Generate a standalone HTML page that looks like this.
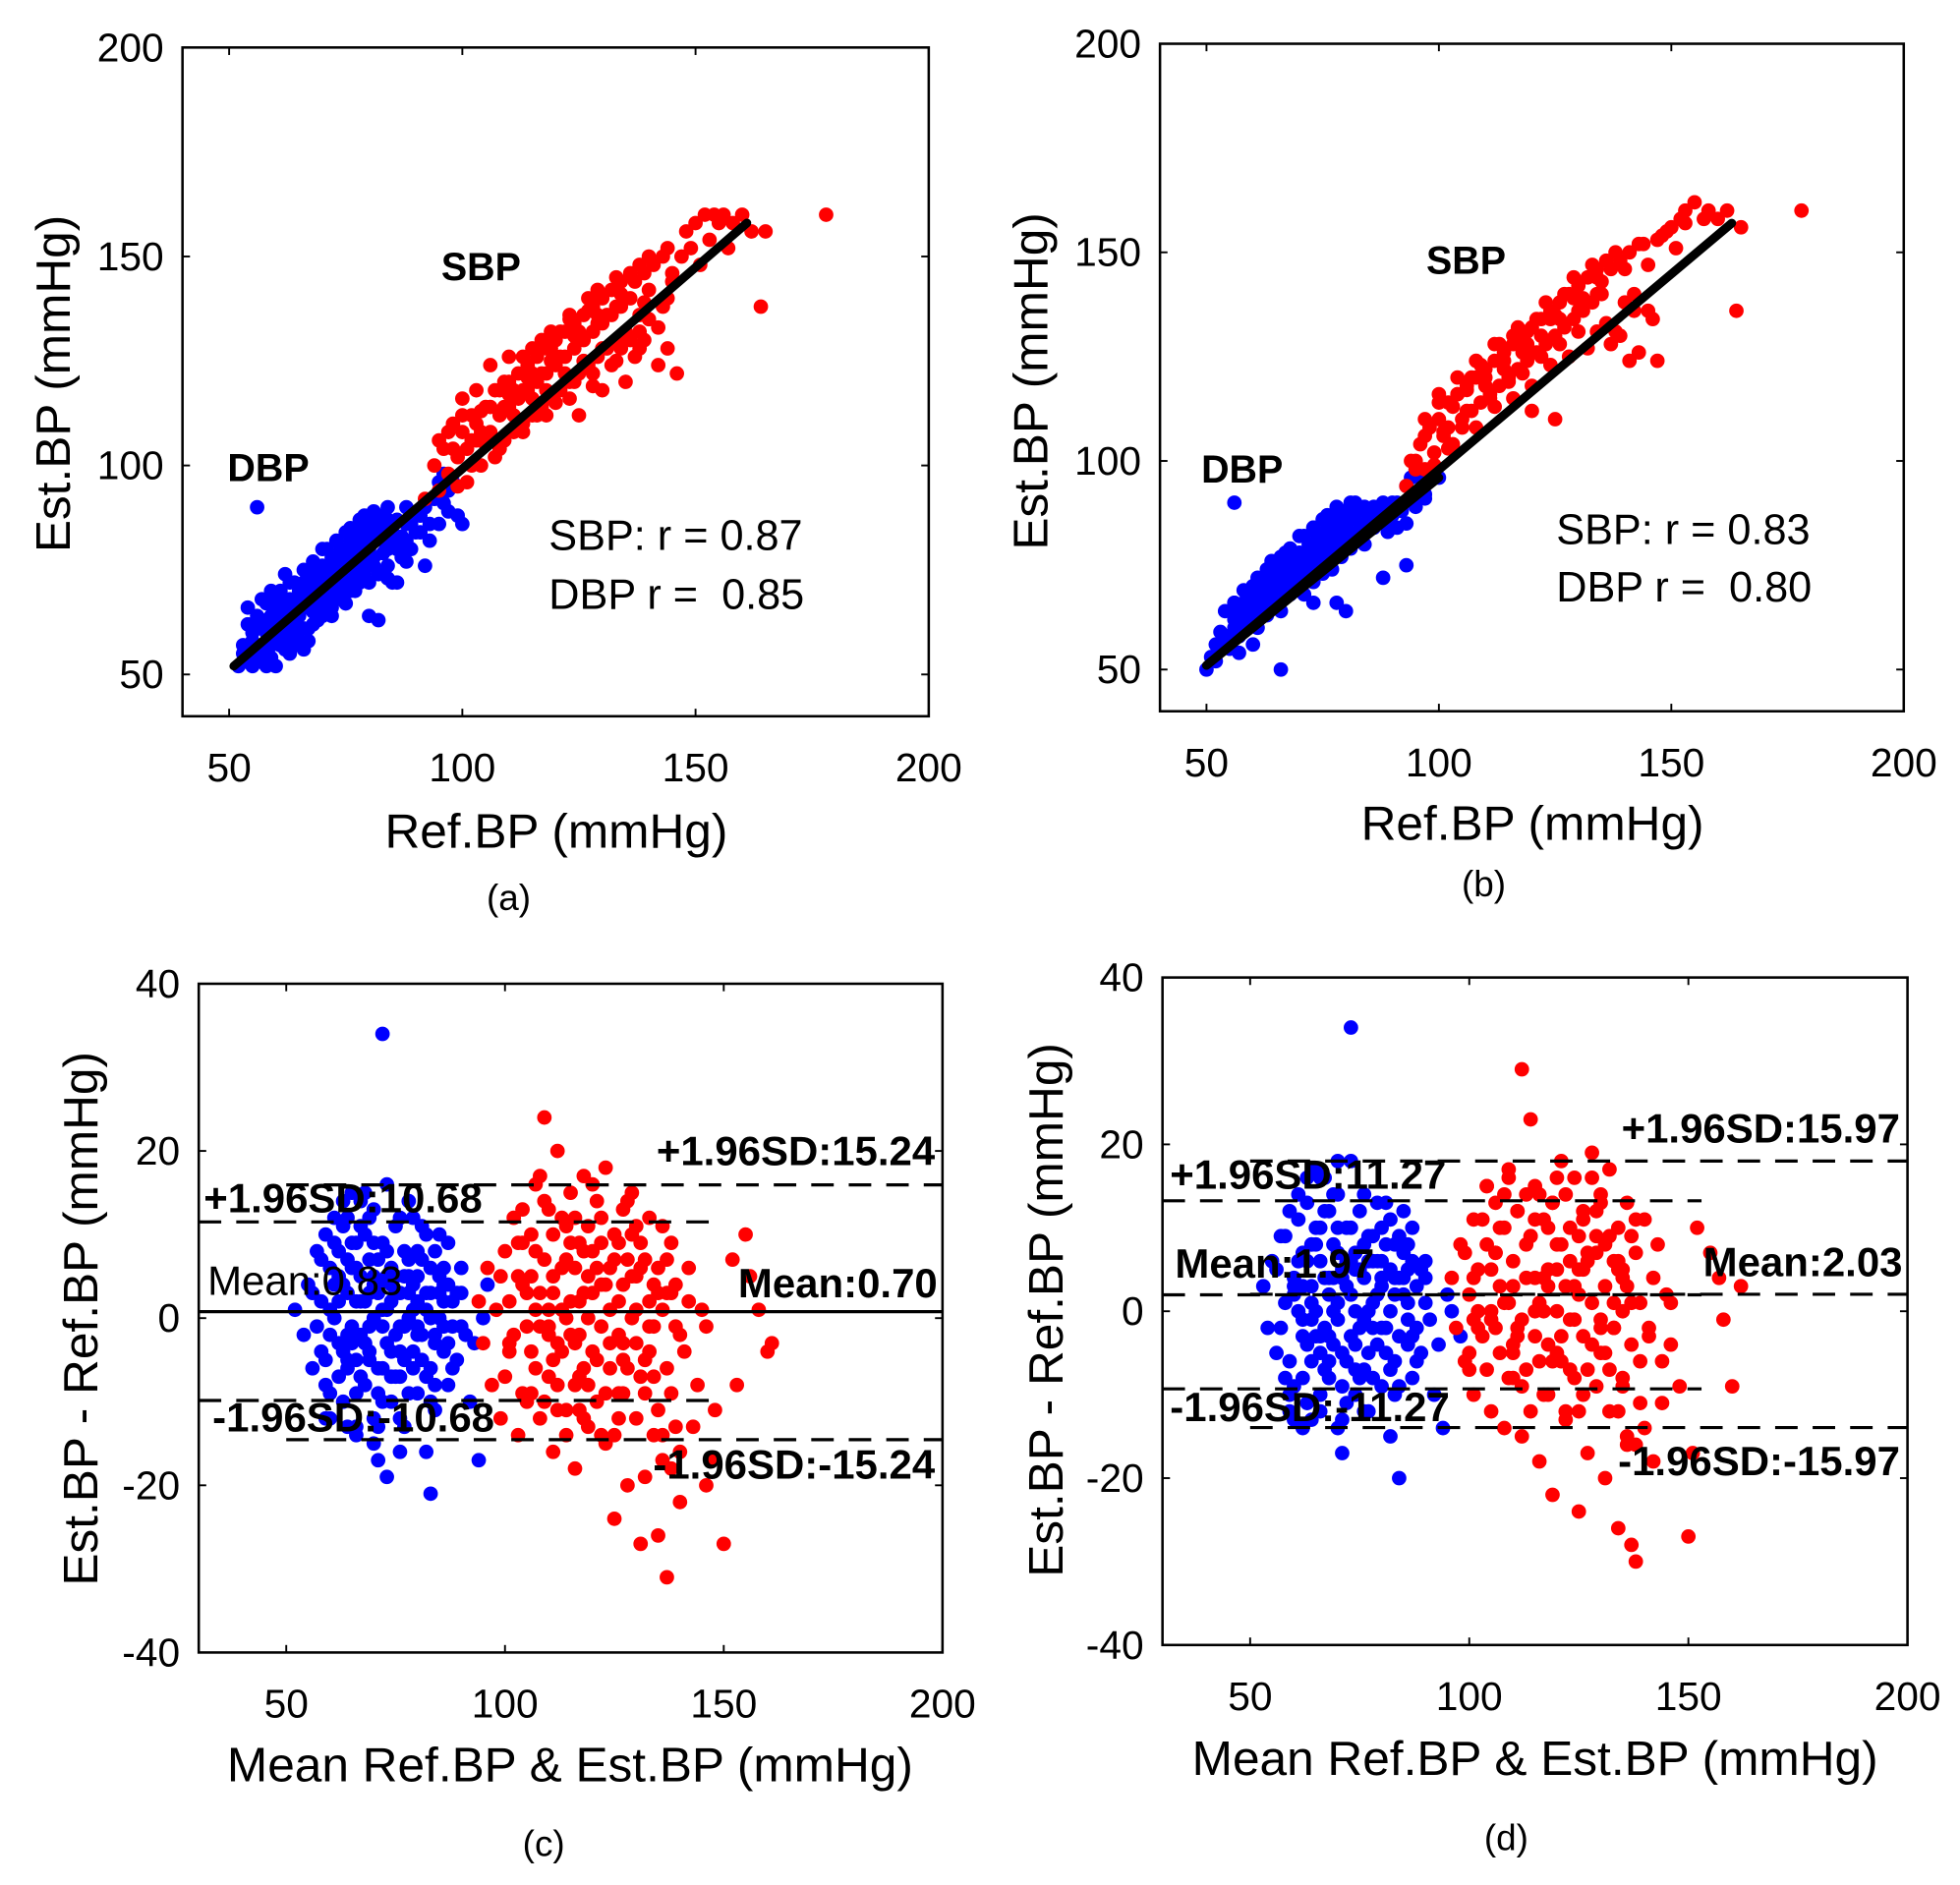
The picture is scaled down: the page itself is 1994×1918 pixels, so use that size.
<!DOCTYPE html>
<html><head><meta charset="utf-8"><style>
html,body{margin:0;padding:0;background:#fff}
svg{display:block}
text{font-family:"Liberation Sans",Arial,sans-serif;fill:#000;white-space:pre}
</style></head><body>
<svg id="fig" width="1994" height="1918" viewBox="0 0 1568 1508" preserveAspectRatio="none" xmlns="http://www.w3.org/2000/svg"></svg>
<script>
// ---- data ----
const aDbp=[52,52,53,55,54,53,55,58,55,60,56,54,57,57,57,62,58,60,58,55,59,64,60,58,60,62,61,66,61,60,62,64,62,58,63,68,63,62,64,66,64,60,65,70,65,64,66,68,66,72,67,66,67,70,68,74,68,68,69,72,69,66,70,76,70,70,71,74,71,68,72,78,72,72,73,76,73,70,74,80,74,74,75,78,75,72,76,82,76,76,77,80,77,74,78,84,78,78,79,82,79,76,80,86,80,80,81,84,81,78,82,88,82,74,83,82,83,86,84,80,84,76,85,84,85,72,86,80,87,78,88,82,89,86,90,88,91,84,92,90,93,86,94,92,95,96,96,98,97,94,98,96,99,88,100,86,56,90,60,52,58,52,63,55,66,56,67,58,80,64,82,63,86,72,92,76,54,66,57,68,59,70,62,74,65,58,68,62,70,64,72,66,74,68,76,70,78,72,60,68,64,72,70,80,75,84,79,88,84,90,88,90];
const aDbpX=[53,57,55,52,56,61,57,55,58,63,59,57,60,65,61,57,62,67,63,60,64,63,65,67,66,61,67,73,68,65,69,69,70,73,71,65,72,75,73,68,74,77,75,70,76,79,77,71,78,81,79,74,80,83,81,76,82,85,83,79,84,87,85,81,86,87,87,83,88,86,89,80,90,84,91,88,93,82,95,86,96,91,97,89,54,62,56,64,58,67,61,70,63,72,66,75,68,77,71,80,73,82,76,85,78,87,81,89,57,53,59,54,62,56,64,57,67,61,69,63,72,64,75,67,77,70,80,72,84,73,88,77];
const aSbp=[92,92,94,100,95,106,96,104,97,98,98,110,99,102,100,108,101,96,102,112,103,106,104,100,105,114,106,108,107,102,108,118,108,112,109,106,110,120,110,114,111,108,112,122,112,116,113,110,114,124,114,118,115,112,116,126,116,120,117,114,118,128,118,122,119,116,120,130,120,124,121,118,122,132,122,126,123,120,124,134,124,128,125,122,126,136,126,130,127,124,128,138,128,132,129,126,130,140,130,134,131,128,132,142,132,136,133,130,134,144,134,138,135,132,136,146,136,140,137,126,138,148,138,136,139,130,140,150,140,142,142,124,143,138,144,152,145,146,146,122,148,156,150,158,152,160,154,160,156,160,158,158,160,160,162,156,164,138,165,156,178,160,106,124,110,126,115,128,100,116,103,118,125,112,130,118,135,120,98,104,104,108,109,114,113,118,117,122,121,126,125,130,129,134,133,138,119,132,123,136,127,140,111,118,115,122,102,106];
const aSbpX=[95,94,97,108,99,95,100,112,102,100,104,113,105,105,107,118,108,104,110,117,111,112,112,110,113,126,115,116,116,112,117,130,118,118,119,128,120,115,121,132,122,122,123,135,124,120,125,132,126,125,127,137,128,122,129,142,130,128,131,136,132,124,133,145,134,128,135,140,136,130,137,144,138,128,139,146,140,135,141,148,142,133,143,150,144,128,145,144,147,150,149,152,151,148,153,154,155,158,157,152,101,104,103,110,106,114,109,120,114,121,119,125,124,131,129,136,134,141,139,139,144,140,113,108,118,112,123,116,128,119,133,125,138,132];
const bDbp=[50,50,51,53,52,52,53,56,54,58,55,55,56,60,56,62,57,58,58,62,58,66,59,60,60,64,60,68,61,62,62,66,62,70,63,64,64,68,64,72,65,66,66,70,66,74,67,68,68,72,68,76,69,70,70,74,70,78,71,72,72,76,72,80,73,74,74,78,74,82,75,76,76,80,76,84,77,78,78,82,78,86,79,80,80,84,80,88,81,82,82,86,82,90,83,84,84,88,84,80,85,86,86,84,87,88,88,90,89,86,90,90,91,84,92,88,93,94,94,96,95,98,96,96,97,92,98,98,100,96,56,90,52,56,54,58,57,54,60,56,66,50,70,70,73,66,78,66,80,64,88,72,93,75,60,70,62,72,64,76,67,78,70,82,73,84,75,86,58,64,61,66,63,70,65,72,68,74,71,76,74,80,77,82,56,66,59,68];
const bDbpX=[53,59,55,55,56,63,57,58,58,65,59,60,60,67,61,60,62,69,63,63,64,66,65,70,66,64,67,75,68,68,69,72,70,76,71,68,72,78,73,71,74,80,75,73,76,82,77,74,78,84,79,77,80,86,81,79,82,87,83,82,84,89,85,84,86,89,87,86,88,88,89,83,90,87,91,90,93,85,95,89,96,93,97,91,54,64,56,66,58,69,61,72,63,74,66,77,68,79,71,82,73,84,76,87,78,89,81,90];
const bSbp=[93,94,94,100,96,104,97,98,98,108,99,102,100,110,101,106,102,114,103,104,104,116,105,110,106,118,107,112,108,120,109,114,110,122,111,116,112,124,113,118,114,126,115,120,116,128,117,122,118,130,119,124,120,132,121,126,122,134,123,128,124,136,125,130,126,138,127,132,128,140,129,134,130,142,131,136,132,144,133,138,134,146,135,140,136,148,137,128,138,150,139,130,140,146,141,124,142,140,143,126,144,152,145,136,146,134,147,124,148,154,150,156,152,158,153,160,155,162,157,158,158,160,160,158,162,160,164,136,165,156,178,160,100,116,104,120,108,124,112,128,116,130,102,108,106,112,110,118,114,122,118,126,122,130,126,134,130,136,134,140,120,112,125,110,97,106,95,100];
const bSbpX=[95,98,97,110,99,99,100,114,102,103,104,116,105,108,107,120,108,108,110,120,111,115,112,113,113,128,115,119,116,115,117,132,118,121,119,131,120,118,121,134,122,125,123,138,124,123,125,135,126,128,127,140,128,125,129,144,130,131,131,139,132,127,133,147,134,131,135,143,136,133,137,146,138,131,139,148,140,138,141,150,142,136,143,152,145,147,147,153,149,155,151,151,153,157,101,107,103,113,106,117,109,123,114,124,119,128,124,134,129,139,134,144];
const cDbp=[52,1,54,-2,55,4,56,-6,57,8,58,-4,58,2,59,10,59,-8,60,6,60,-12,61,0,61,12,62,-3,62,5,63,14,63,-10,64,3,64,-6,65,9,65,-1,65,15,66,6,66,-14,67,-2,67,11,68,2,68,-8,69,7,69,-4,70,13,70,0,70,-12,71,4,71,-17,72,-6,72,9,73,1,73,-3,73,16,74,6,74,-10,75,-2,75,11,76,3,76,-7,77,8,77,-13,78,0,78,5,79,-4,79,12,80,2,80,-9,81,7,81,-2,82,10,82,-16,83,3,83,-6,84,8,84,-11,85,0,85,5,86,-4,87,9,87,-8,88,2,89,-5,90,6,91,-2,92,-10,93,-3,94,-17,95,0,96,4,72,34,73,-19,83,-21,76,-16,64,12,68,15,78,14,66,-13,70,-15,60,-2,62,8,64,-5,66,2,68,-3,70,4,72,-1,74,2,76,-4,78,3,80,-1,82,1,84,-2,86,2,88,-1,67,5,69,-5,71,7,75,5,79,-6];
const cDbpX=[56,3,57,-1,58,7,59,-5,60,1,61,9,62,-7,63,4,64,-2,65,6,66,-9,67,2,68,10,69,-1,70,5,71,-6,72,1,73,8,74,-4,75,3,76,12,77,-1,78,-9,79,4,80,8,81,-5,82,3,83,0,84,-3,85,10,86,6,88,-6,89,3,90,-1,60,-9,63,11,66,-5,69,12,72,-10,75,-7,78,7,81,11,84,-8,87,4,62,2,65,-3,68,-3,71,3,74,4,77,5,80,-2,83,6,86,-1,59,-12,64,-13,67,14,71,-13,76,-12,61,4,63,-4,66,9,69,3,71,-9,73,5,76,-1,79,1,82,-7,85,3,87,-3,64,7,67,-7,70,9,74,-7,77,-5,80,5,83,-10,86,4,90,3];
const cSbp=[94,2,95,-3,96,6,97,-8,98,1,99,-12,100,8,101,-4,102,12,103,-14,104,4,105,-1,106,10,106,-9,107,16,107,-6,108,3,108,-12,109,24,109,7,110,-2,110,13,111,-16,111,5,112,-8,112,20,113,1,113,-4,114,11,114,-11,115,15,115,-2,116,6,116,-18,117,9,117,-7,118,3,118,17,119,-13,119,0,120,8,120,-4,121,14,121,-10,122,4,122,-1,123,18,123,-15,124,6,124,-6,125,10,125,-24,126,2,126,-9,127,13,127,-3,128,7,128,-20,129,0,129,15,130,-12,130,5,131,-27,131,9,132,-5,132,-19,133,12,133,2,134,-7,135,6,135,-26,136,-14,136,11,137,-31,137,3,138,-9,139,4,140,-2,140,-22,142,6,143,-13,145,1,146,-20,147,-17,150,-27,152,7,153,-8,155,10,156,5,158,1,160,-4,161,-3,105,-10,110,-1,114,0,118,-6,122,9,126,-2,130,1,134,-1,138,3,111,3,119,5,127,-5,104,9,116,-3,103,5];
const cSbpX=[99,5,100,-7,101,2,102,-2,103,9,104,-9,105,3,106,-4,107,8,108,-1,109,14,110,-7,111,10,112,-3,113,6,114,-14,115,2,116,12,117,-2,118,8,119,-8,120,3,121,-5,122,12,123,-9,124,1,125,7,126,-12,127,4,128,-6,129,10,130,-3,131,6,132,-9,133,-1,134,4,135,-11,136,1,137,-6,138,9,139,-13,141,-4,142,2,144,-8,146,-1,148,-11,104,13,108,17,112,-11,116,-8,120,16,124,-3,128,14,132,7,136,-17,140,-16,110,1,114,7,118,-12,122,-14,126,9,130,11,134,-14,138,-18,101,-3,106,5,111,-5,115,9,119,11,123,4,127,-9,131,-7,135,3,139,-1,109,-10,113,12,117,2,121,6,125,-14,129,5,133,-4,137,7,107,1,117,-11];
const dDbp=[53,3,54,-2,55,6,56,-5,57,9,58,-8,58,1,59,12,59,-10,60,4,60,-13,61,0,61,14,62,-3,62,7,63,16,63,-11,64,3,64,-6,65,10,65,0,65,17,66,6,66,-12,67,-2,67,12,68,2,68,-8,69,8,69,-4,70,14,70,1,70,-14,71,5,71,-17,72,-6,72,10,73,2,73,-3,73,18,74,7,74,-10,75,-2,75,12,76,4,76,-7,77,9,77,-12,78,1,78,6,79,-4,79,13,80,3,80,-9,81,8,81,-2,82,11,82,-15,83,4,83,-6,84,9,84,-20,85,2,85,7,86,-4,87,10,87,-8,88,3,89,-5,90,6,91,-1,92,-10,93,-4,94,-14,95,2,96,0,98,-3,73,34,66,16,70,18,62,-14,68,-6,72,6,74,0,76,8,78,-2,80,4,82,0,64,8,66,-3,68,4,70,-1,84,4,86,1,88,-2,60,2,62,-1,64,1];
const dDbpX=[56,5,57,-2,58,9,59,-6,60,3,61,11,62,-8,63,6,64,-1,65,8,66,-10,67,4,68,12,69,0,70,7,71,-5,72,3,73,10,74,-4,75,5,76,14,77,0,78,-8,79,6,80,10,81,-5,82,5,83,2,84,-3,85,12,86,8,88,-6,89,5,90,1,60,-9,63,13,66,-5,69,14,72,-11,75,-8,78,9,81,13,84,-9,87,6,62,3,65,-3,68,-3,71,4,74,5,77,6,80,-2,83,8,86,-1,59,-12,64,-13,67,16,71,-13,76,-12,61,6,63,-4,66,10,69,4,71,-9,73,6,76,-1,79,2,82,-7,85,4,87,-3,64,8,67,-7,70,10,74,-7,77,-5,80,6,83,-10,86,5,90,4];
const dSbp=[96,4,97,-2,98,8,99,-6,100,2,101,11,101,-10,102,5,103,-3,104,15,105,0,105,-12,106,7,106,13,107,-5,107,3,108,10,108,-14,109,1,109,17,110,-8,110,6,111,-2,111,12,112,29,112,-15,113,4,113,-7,114,23,114,9,115,-3,115,15,116,1,116,-18,117,11,117,-10,118,5,118,-4,119,13,119,-22,120,0,120,8,121,-6,121,18,122,3,122,-13,123,10,123,-1,124,16,124,-8,125,5,125,-24,126,12,126,-3,127,7,127,-17,128,1,128,19,129,-9,129,9,130,-5,130,14,131,-20,131,3,132,-12,132,17,133,6,133,-2,134,-26,134,10,135,-8,135,4,136,-16,136,13,137,-28,137,1,138,-30,138,7,139,-6,140,11,141,-3,142,-18,143,8,144,-11,145,2,146,-4,150,-27,151,-17,152,10,155,7,157,4,158,-1,160,-9,162,3,100,-7,105,-1,110,-4,115,0,120,-5,125,2,130,-2,135,0,104,8,118,3,126,5,134,5,102,-2];
const dSbpX=[99,7,100,-5,101,4,102,0,103,11,104,-7,105,5,106,-2,107,10,108,1,109,16,110,-5,111,12,112,-1,113,8,114,-12,115,4,116,14,117,0,118,10,119,-6,120,5,121,-3,122,14,123,-7,124,3,125,9,126,-10,127,6,128,-4,129,12,130,-1,131,8,132,-7,133,1,134,6,135,-9,136,3,137,-4,138,11,139,-11,141,-2,142,4,144,-6,146,1,148,-9,104,15,108,14,112,-9,116,-6,120,16,124,-1,128,16,132,9,136,-15,140,-14,110,3,114,9,118,-10,122,-12,126,11,130,13,134,-12,138,-16,101,-1,106,7,111,-3,115,11,119,13,123,6,127,-7,131,-5,135,5,139,1,109,-8,113,14,117,4,121,8,125,-12,129,7,133,-2,137,9];
// ---- helpers ----
const NS='http://www.w3.org/2000/svg';
const fig=document.getElementById('fig');
function mk(tag,attrs,parent,txt){const e=document.createElementNS(NS,tag);for(const k in attrs)e.setAttribute(k,attrs[k]);if(txt!==undefined)e.textContent=txt;(parent||fig).appendChild(e);return e;}
function panel(P){
  const g=mk('g',{});
  
  
  const sx=v=>P.L+(v-P.x0)/(P.x1-P.x0)*(P.R-P.L);
  const sy=v=>P.B-(v-P.y0)/(P.y1-P.y0)*(P.B-P.T);
  const clip='clip-'+P.name;
  const cp=mk('clipPath',{id:clip},g);mk('rect',{x:P.L,y:P.T,width:P.R-P.L,height:P.B-P.T},cp);
  const pts=mk('g',{'clip-path':'url(#'+clip+')'},g);
  P.series.forEach(s=>{
    for(let i=0;i<s.d.length;i+=2){
      const c=mk('circle',{cx:sx(s.d[i]),cy:sy(s.d[i+1]),r:5.8,fill:s.c},pts);
      
      
    }
  });
  (P.lines||[]).forEach(l=>{
    const e=mk('line',{x1:sx(l[0]),y1:sy(l[1]),x2:sx(l[2]),y2:sy(l[3]),stroke:'#000','stroke-width':l[4],'stroke-dasharray':l[5]||'none','stroke-linecap':l[5]?'butt':'round'},pts);
    
    
  });
  const fr=mk('rect',{x:P.L,y:P.T,width:P.R-P.L,height:P.B-P.T,fill:'none',stroke:'#000','stroke-width':2},g);
  
  
  P.xt.forEach(v=>{const x=sx(v);
    mk('line',{x1:x,y1:P.B,x2:x,y2:P.B-6,stroke:'#000','stroke-width':1.5},g);
    mk('line',{x1:x,y1:P.T,x2:x,y2:P.T+6,stroke:'#000','stroke-width':1.5},g);
    const t=mk('text',{x:x,y:P.B+52,'font-size':32,'text-anchor':'middle'},g,String(v));
    
    
  });
  P.yt.forEach(v=>{const y=sy(v);
    mk('line',{x1:P.L,y1:y,x2:P.L+6,y2:y,stroke:'#000','stroke-width':1.5},g);
    mk('line',{x1:P.R,y1:y,x2:P.R-6,y2:y,stroke:'#000','stroke-width':1.5},g);
    const t=mk('text',{x:P.L-15,y:y+11,'font-size':32,'text-anchor':'end'},g,String(v));
    
    
  });
  const xt=mk('text',{x:P.xtx,y:P.xty,'font-size':39,'text-anchor':'middle'},g,P.xtitle);
  
  
  const yt=mk('text',{x:0,y:0,'font-size':39,'text-anchor':'middle',transform:'translate('+P.ytx+','+P.yty+') rotate(-90)'},g,P.ytitle);
  
  
  const cap=mk('text',{x:P.capx,y:P.capy,'font-size':29,'text-anchor':'middle'},g,P.cap);
  
  
  P.notes.forEach(n=>{
    const t=mk('text',{x:n[0],y:n[1],'font-size':n[4]||33,'font-weight':n[3]?'bold':'normal','text-anchor':n[5]||'start'},g,n[2]);
    
    
  });
}
panel({name:'panel-a',L:146,R:743,T:38,B:573,x0:40,x1:200,y0:40,y1:200,xt:[50,100,150,200],yt:[50,100,150,200],
  series:[{d:aDbp,c:'#0000ff',n:'dbp'},{d:aDbpX,c:'#0000ff',n:'dbp'},{d:aSbp,c:'#ff0000',n:'sbp'},{d:aSbpX,c:'#ff0000',n:'sbp'}],
  lines:[[51,52,161,158,7,null,'regression-line']],
  xtitle:'Ref.BP (mmHg)',xtx:445,xty:678,ytitle:'Est.BP (mmHg)',ytx:56,yty:307,cap:'(a)',capx:407,capy:728,
  notes:[[353,224,'SBP',1,31],[182,385,'DBP',1,31],[439,440,'SBP: r = 0.87',0,34],[439,487,'DBP r =  0.85',0,34]]});
panel({name:'panel-b',L:928,R:1523,T:35,B:569,x0:40,x1:200,y0:40,y1:200,xt:[50,100,150,200],yt:[50,100,150,200],
  series:[{d:bDbp,c:'#0000ff',n:'dbp'},{d:bDbpX,c:'#0000ff',n:'dbp'},{d:bSbp,c:'#ff0000',n:'sbp'},{d:bSbpX,c:'#ff0000',n:'sbp'}],
  lines:[[50,51,163,157,7,null,'sbp-regression-line'],[50,51,100,96,7,null,'dbp-regression-line']],
  xtitle:'Ref.BP (mmHg)',xtx:1226,xty:672,ytitle:'Est.BP (mmHg)',ytx:838,yty:305,cap:'(b)',capx:1187,capy:717,
  notes:[[1141,219,'SBP',1,31],[961,386,'DBP',1,31],[1245,435,'SBP: r = 0.83',0,34],[1245,481,'DBP r =  0.80',0,34]]});
panel({name:'panel-c',L:159,R:754,T:787,B:1322,x0:30,x1:200,y0:-40,y1:40,xt:[50,100,150,200],yt:[-40,-20,0,20,40],
  series:[{d:cDbp,c:'#0000ff',n:'dbp'},{d:cDbpX,c:'#0000ff',n:'dbp'},{d:cSbp,c:'#ff0000',n:'sbp'},{d:cSbpX,c:'#ff0000',n:'sbp'}],
  lines:[[30,0.77,200,0.77,2.5,null,'mean-line'],
    [30,11.51,150,11.51,2.5,'18,12','dbp-upper-loa'],[30,-9.85,150,-9.85,2.5,'18,12','dbp-lower-loa'],
    [50,15.94,200,15.94,2.5,'18,12','sbp-upper-loa'],[50,-14.54,200,-14.54,2.5,'18,12','sbp-lower-loa']],
  xtitle:'Mean Ref.BP & Est.BP (mmHg)',xtx:456,xty:1425,ytitle:'Est.BP - Ref.BP (mmHg)',ytx:78,yty:1055,cap:'(c)',capx:435,capy:1485,
  notes:[[748,932,'+1.96SD:15.24',1,33,'end'],[163,970,'+1.96SD:10.68',1,33],[166,1036,'Mean:0.83',0,33],[750,1038,'Mean:0.70',1,33,'end'],
    [170,1145,'-1.96SD:-10.68',1,33],[748,1183,'-1.96SD:-15.24',1,33,'end']]});
panel({name:'panel-d',L:930,R:1526,T:782,B:1316,x0:30,x1:200,y0:-40,y1:40,xt:[50,100,150,200],yt:[-40,-20,0,20,40],
  series:[{d:dDbp,c:'#0000ff',n:'dbp'},{d:dDbpX,c:'#0000ff',n:'dbp'},{d:dSbp,c:'#ff0000',n:'sbp'},{d:dSbpX,c:'#ff0000',n:'sbp'}],
  lines:[[30,1.97,153,1.97,2.5,'18,12','dbp-mean-line'],[50,2.03,200,2.03,2.5,'18,12','sbp-mean-line'],
    [30,13.24,153,13.24,2.5,'18,12','dbp-upper-loa'],[30,-9.3,153,-9.3,2.5,'18,12','dbp-lower-loa'],
    [50,18.0,200,18.0,2.5,'18,12','sbp-upper-loa'],[50,-13.94,200,-13.94,2.5,'18,12','sbp-lower-loa']],
  xtitle:'Mean Ref.BP & Est.BP (mmHg)',xtx:1228,xty:1420,ytitle:'Est.BP - Ref.BP (mmHg)',ytx:850,yty:1048,cap:'(d)',capx:1205,capy:1480,
  notes:[[1520,914,'+1.96SD:15.97',1,33,'end'],[936,951,'+1.96SD:11.27',1,33],[940,1022,'Mean:1.97',1,33],[1522,1021,'Mean:2.03',1,33,'end'],
    [936,1137,'-1.96SD:-11.27',1,33],[1520,1180,'-1.96SD:-15.97',1,33,'end']]});
</script>
</body></html>
